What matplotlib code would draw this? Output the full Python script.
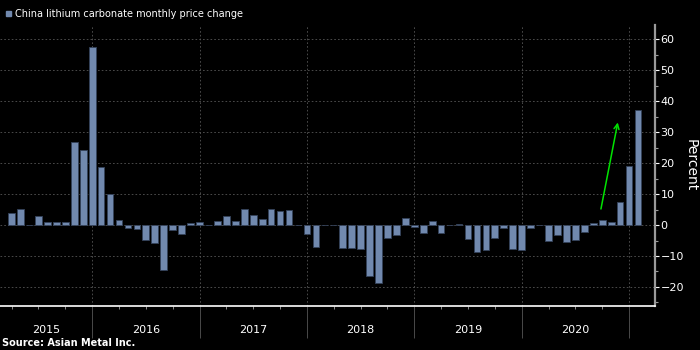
import matplotlib
matplotlib.use("Agg")
import matplotlib.pyplot as plt
import matplotlib.transforms as mtransforms
import numpy as np

# monthly price change, Apr 2015 .. Feb 2021 (percent)
first_month = (2015, 4)
pct_change = [
    4.0, 5.3, 0.0, 3.0, 1.0, 1.0, 1.1, 26.9, 24.3,                       # 2015
    57.4, 18.8, 10.1, 1.7, -1.0, -1.2, -4.7, -5.7, -14.6, -1.5, -2.8, 0.75,  # 2016
    1.1, 0.0, 1.4, 3.0, 1.4, 5.3, 3.2, 2.0, 5.2, 4.5, 4.9, 0.0,           # 2017
    -3.0, -7.0, 0.0, 0.0, -7.3, -7.5, -7.6, -16.3, -18.6, -4.3, -3.3, 2.4,  # 2018
    -0.5, -2.5, 1.4, -2.7, 0.0, 0.4, -4.5, -8.8, -8.2, -4.3, -1.1, -7.7,  # 2019
    -8.2, -1.1, 0.0, -5.2, -3.3, -5.6, -4.7, -2.4, 0.75, 1.7, 1.1, 7.4,   # 2020
    19.1, 37.2,                                                          # 2021
]
years = [2015, 2016, 2017, 2018, 2019, 2020]
y_ticks = [-20, -10, 0, 10, 20, 30, 40, 50, 60]

title = "China lithium carbonate monthly price change"
source = "Source: Asian Metal Inc."

bar_color = "#7189AE"
grid_color = "#555555"

# month index, 0 = Jan 2015
start = (first_month[0] - 2015) * 12 + first_month[1] - 1
x = np.arange(start, start + len(pct_change))
x_lo, x_hi = 1.7, 74.9

fig = plt.figure(figsize=(7, 3.5), dpi=100, facecolor="black")
ax = fig.add_axes([0.0, 0.127, 0.9357, 0.8016])
ax.set_facecolor("black")

ax.bar(x, pct_change, width=0.75, color=bar_color, edgecolor="#34425a",
       linewidth=0.6, zorder=3)

ax.set_xlim(x_lo, x_hi)
ax.set_ylim(-26, 64.6)

# grid
jan_ticks = [(y - 2015) * 12 for y in years + [2021] if x_lo <= (y - 2015) * 12 <= x_hi]
for t in y_ticks:
    ax.axhline(t, color=grid_color, lw=0.6, ls=(0, (2, 2.5)), zorder=1)
for j in jan_ticks:
    ax.axvline(j, color=grid_color, lw=0.6, ls=(0, (2, 2.5)), zorder=1)

# spines
for s in ("top", "left"):
    ax.spines[s].set_visible(False)
ax.spines["bottom"].set_color("white")
ax.spines["bottom"].set_linewidth(1.2)
ax.spines["right"].set_color("#9a9a9a")
ax.spines["right"].set_linewidth(1.6)

# y axis on the right
ax.yaxis.tick_right()
ax.yaxis.set_label_position("right")
ax.set_yticks(y_ticks)
ax.set_yticks(np.arange(-25, 65, 5), minor=True)
ax.tick_params(axis="y", which="major", direction="out", length=3, width=0.8,
               color="white", labelcolor="white", labelsize=8, pad=1)
ax.tick_params(axis="y", which="minor", direction="out", length=2, width=0.8,
               color="#9a9a9a")
ax.set_ylabel("Percent", color="white", fontsize=10, rotation=270,
              va="center", ha="center")
ax.yaxis.set_label_coords(1.055, 0.5)

# x axis: year separators + quarter ticks
ax.set_xticks(jan_ticks)
ax.set_xticks([q for q in range(0, 75, 3) if x_lo <= q <= x_hi and q % 12], minor=True)
ax.set_xticklabels([])
ax.tick_params(axis="x", which="major", direction="out", length=23, width=0.7,
               color="#4a4a4a")
ax.tick_params(axis="x", which="minor", direction="out", length=2.5, width=0.7,
               color="#8a8a8a")

trans = mtransforms.blended_transform_factory(ax.transData, ax.transAxes)
for y in years:
    lo = max((y - 2015) * 12, x_lo)
    hi = min((y - 2015) * 12 + 12, x_hi)
    ax.text((lo + hi) / 2, -0.087, str(y), transform=trans, color="white",
            fontsize=8, ha="center", va="center")

# arrow
ax.annotate("", xy=(70.8, 34), xytext=(68.8, 4.3),
            arrowprops=dict(arrowstyle="->", color="#00e400", lw=1.1,
                            mutation_scale=9), zorder=5)

# title legend and source
fig.patches.append(plt.Rectangle((6 / 700, 1 - 16 / 350), 5 / 700, 5 / 350,
                                 transform=fig.transFigure, color=bar_color))
fig.text(15 / 700, 1 - 14 / 350, title, color="white", fontsize=7,
         ha="left", va="center")
fig.text(2 / 700, 1 - 343 / 350, source, color="white", fontsize=7,
         fontweight="bold", ha="left", va="center")

fig.savefig("out.png", dpi=100, facecolor="black")
